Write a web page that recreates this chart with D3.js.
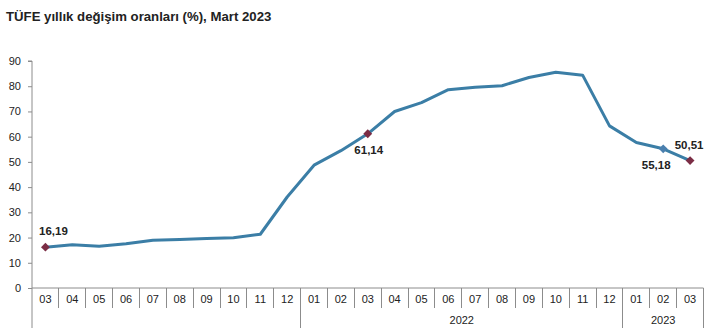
<!DOCTYPE html>
<html><head><meta charset="utf-8">
<script src="https://cdn.jsdelivr.net/npm/d3@7"></script>
<style>body{margin:0;background:#fff}svg{display:block;font-family:Arial,"Liberation Sans",sans-serif}</style>
</head><body><svg id="c" width="722" height="335"></svg>
<script>
const months = ["03","04","05","06","07","08","09","10","11","12","01","02","03","04","05","06","07","08","09","10","11","12","01","02","03"];
const years = ["2021","2021","2021","2021","2021","2021","2021","2021","2021","2021","2022","2022","2022","2022","2022","2022","2022","2022","2022","2022","2022","2022","2023","2023","2023"];
const values = [16.19,17.14,16.59,17.53,18.95,19.25,19.58,19.89,21.31,36.08,48.69,54.44,61.14,69.97,73.50,78.62,79.60,80.21,83.45,85.51,84.39,64.27,57.68,55.18,50.51];
const yTicks = [0,10,20,30,40,50,60,70,80,90];
const labelled = [{i:0,text:"16,19",pos:"above",color:"#7b2d45"},{i:12,text:"61,14",pos:"below",color:"#7b2d45"},{i:23,text:"55,18",pos:"belowleft",color:"#4a7fae"},{i:24,text:"50,51",pos:"aboveright",color:"#7b2d45"}];
const title = "TÜFE yıllık değişim oranları (%), Mart 2023";

(function(){
const svg = d3.select("#c");
const pL = 32, pR = 703.5, pT = 61, pB = 288;
const idx = d3.range(values.length);
const x = d3.scaleBand().domain(idx).range([pL, pR]).padding(0);
const y = d3.scaleLinear().domain([0,90]).range([pB, pT]);
const cx = i => x(i) + x.bandwidth()/2;

svg.append("text").attr("x",6).attr("y",21).attr("font-size",13.2).attr("font-weight","bold").attr("fill","#222").text(title);

const ya = svg.append("g").attr("transform",`translate(${pL},0)`).call(d3.axisLeft(y).tickValues(yTicks).tickSize(4).tickPadding(7));
ya.select(".domain").attr("stroke","#8c8c8c").attr("d",`M-4,${pT}H0V328`);
ya.selectAll(".tick line").attr("stroke","#8c8c8c");
ya.selectAll(".tick text").attr("font-size",11).attr("fill","#222").attr("font-family","Arial, 'Liberation Sans', sans-serif");

svg.append("line").attr("x1",pL).attr("x2",pR).attr("y1",pB).attr("y2",pB).attr("stroke","#8c8c8c");
svg.append("g").selectAll("text").data(idx).join("text")
  .attr("x",i=>cx(i)).attr("y",303).attr("text-anchor","middle").attr("font-size",11).attr("fill","#222").text(i=>months[i]);
const seps = d3.range(1, values.length+1);
svg.append("g").selectAll("line").data(seps).join("line")
  .attr("x1",i=> i<values.length ? x(i) : pR).attr("x2",i=> i<values.length ? x(i) : pR)
  .attr("y1",pB)
  .attr("y2",i=> (i===values.length || years[i]!==years[i-1]) ? 328 : 308)
  .attr("stroke","#8c8c8c").attr("shape-rendering","crispEdges");
const yearGroups = d3.groups(idx, i=>years[i]).slice(1);
svg.append("g").selectAll("text").data(yearGroups).join("text")
  .attr("x",d=>(x(d[1][0]) + x(d[1][d[1].length-1]) + x.bandwidth())/2).attr("y",324)
  .attr("text-anchor","middle").attr("font-size",11).attr("fill","#222").text(d=>d[0]);

svg.append("path").datum(idx).attr("fill","none").attr("stroke","#3b7ea6").attr("stroke-width",3).attr("stroke-linejoin","round")
  .attr("d", d3.line().x(i=>cx(i)).y(i=>y(values[i])));

const sym = d3.symbol().type(d3.symbolDiamond2).size(50);
svg.append("g").selectAll("path").data(labelled).join("path")
  .attr("transform",d=>`translate(${cx(d.i)},${y(values[d.i])})`).attr("d",sym).attr("fill",d=>d.color);

const dx = {above:8, below:1, belowleft:-7, aboveright:-1};
svg.append("g").selectAll("text").data(labelled).join("text")
  .attr("x",d=>cx(d.i) + dx[d.pos])
  .attr("y",d=>y(values[d.i]) + (d.pos==="above"||d.pos==="aboveright"?-12:20))
  .attr("text-anchor","middle").attr("font-size",11.5).attr("font-weight","bold").attr("fill","#222").text(d=>d.text);
})();
</script></body></html>
